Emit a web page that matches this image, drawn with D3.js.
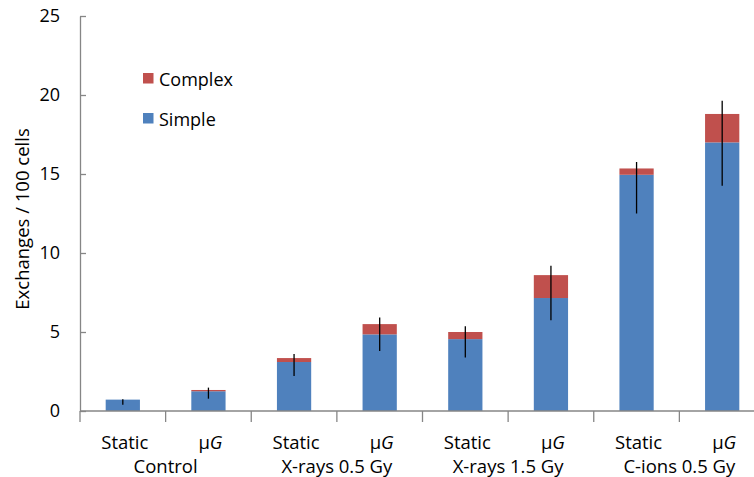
<!DOCTYPE html>
<meta charset="utf-8">
<title>Exchanges per 100 cells</title>
<style>
body {
  margin: 0;
  background-color: #fff;
  font-family: 'Open Sans', sans-serif;
}
svg text {
  fill: #000;
}
</style>
<body>
<script src="https://d3js.org/d3.v7.min.js"></script>
<script>
// chart values
var groups = ["Control", "X-rays 0.5 Gy", "X-rays 1.5 Gy", "C-ions 0.5 Gy"];
var conditions = ["Static", "\u03bcG", "Static", "\u03bcG", "Static", "\u03bcG", "Static", "\u03bcG"];
var simple = [0.72, 1.25, 3.1, 4.85, 4.55, 7.15, 14.95, 17.0];
var complex = [0.0, 0.08, 0.25, 0.65, 0.45, 1.45, 0.4, 1.8];
var errLow = [0.4, 0.78, 2.22, 3.8, 3.38, 5.75, 12.5, 14.25];
var errHigh = [0.75, 1.48, 3.6, 5.92, 5.37, 9.2, 15.76, 19.63];
var yTicks = [0, 5, 10, 15, 20, 25];

var width = 754,
    height = 477;

var svg = d3.select("body").append("svg")
    .attr("width", width)
    .attr("height", height);

var blue = "#4f81bd",
    red = "#c0504d",
    axisGrey = "#868686";

// band per bar; the plot runs past the right edge like the original picture
var x = d3.scaleBand()
    .domain(d3.range(conditions.length))
    .range([80, 765])
    .paddingInner(0.6)
    .paddingOuter(0.3);

var y = d3.scaleLinear()
    .domain([0, 25])
    .range([411, 16]);

var step = x.step();
var x0 = 80;

// bars
var g = svg.append("g");
g.selectAll("rect.simple")
    .data(simple)
    .enter().append("rect")
    .attr("class", "simple")
    .attr("x", function(d, i) { return x(i); })
    .attr("width", x.bandwidth())
    .attr("y", function(d) { return y(d); })
    .attr("height", function(d) { return y(0) - y(d); })
    .attr("fill", blue);

g.selectAll("rect.complex")
    .data(complex)
    .enter().append("rect")
    .attr("class", "complex")
    .attr("x", function(d, i) { return x(i); })
    .attr("width", x.bandwidth())
    .attr("y", function(d, i) { return y(simple[i] + d); })
    .attr("height", function(d, i) { return y(simple[i]) - y(simple[i] + d); })
    .attr("fill", red);

// error bars
g.selectAll("line.err")
    .data(errLow)
    .enter().append("line")
    .attr("class", "err")
    .attr("x1", function(d, i) { return x(i) + x.bandwidth() / 2; })
    .attr("x2", function(d, i) { return x(i) + x.bandwidth() / 2; })
    .attr("y1", function(d) { return y(d); })
    .attr("y2", function(d, i) { return y(errHigh[i]); })
    .attr("stroke", "#000")
    .attr("stroke-width", 1.3);

// y axis, ticks inside
var yAxis = svg.append("g")
    .attr("transform", "translate(" + x0 + ",0)")
    .call(d3.axisLeft(y).tickValues(yTicks).tickSizeInner(-6).tickSizeOuter(0).tickPadding(20));
yAxis.select(".domain").attr("stroke", axisGrey).attr("stroke-width", 1.3);
yAxis.selectAll(".tick line").attr("stroke", axisGrey).attr("stroke-width", 1.3);
yAxis.selectAll("text")
    .attr("font-family", "'Open Sans', sans-serif")
    .attr("font-size", 18)
    .attr("fill", "#000");

// x axis line and category boundary ticks
svg.append("line")
    .attr("x1", x0).attr("x2", width)
    .attr("y1", y(0)).attr("y2", y(0))
    .attr("stroke", axisGrey).attr("stroke-width", 1.3);

svg.selectAll("line.xtick")
    .data(d3.range(conditions.length + 1))
    .enter().append("line")
    .attr("class", "xtick")
    .attr("x1", function(i) { return x0 + i * step; })
    .attr("x2", function(i) { return x0 + i * step; })
    .attr("y1", y(0))
    .attr("y2", y(0) + 11)
    .attr("stroke", axisGrey).attr("stroke-width", 1.3);

// condition labels
var cond = svg.selectAll("text.cond")
    .data(conditions)
    .enter().append("text")
    .attr("class", "cond")
    .attr("x", function(d, i) { return x(i) + x.bandwidth() / 2 + 2; })
    .attr("y", 449)
    .attr("text-anchor", "middle")
    .attr("font-size", 18.5);
cond.each(function(d) {
    var t = d3.select(this);
    if (d === "Static") {
        t.text(d);
    } else {
        t.append("tspan").text("\u03bc");
        t.append("tspan").attr("font-style", "italic").text("G");
    }
});

// group labels
svg.selectAll("text.group")
    .data(groups)
    .enter().append("text")
    .attr("class", "group")
    .attr("x", function(d, i) { return x0 + (2 * i + 1) * step; })
    .attr("y", 473)
    .attr("text-anchor", "middle")
    .attr("font-size", 18.5)
    .text(function(d) { return d; });

// y title
svg.append("text")
    .attr("transform", "translate(29,219) rotate(-90)")
    .attr("text-anchor", "middle")
    .attr("font-size", 18.5)
    .text("Exchanges / 100 cells");

// legend
var legend = [{name: "Complex", color: red}, {name: "Simple", color: blue}];
var lg = svg.selectAll("g.legend")
    .data(legend)
    .enter().append("g")
    .attr("class", "legend")
    .attr("transform", function(d, i) { return "translate(143," + (73 + i * 40) + ")"; });
lg.append("rect")
    .attr("width", 10.5)
    .attr("height", 10.5)
    .attr("fill", function(d) { return d.color; });
lg.append("text")
    .attr("x", 16)
    .attr("y", 12.5)
    .attr("font-size", 18)
    .text(function(d) { return d.name; });
</script>
</body>
</html>
